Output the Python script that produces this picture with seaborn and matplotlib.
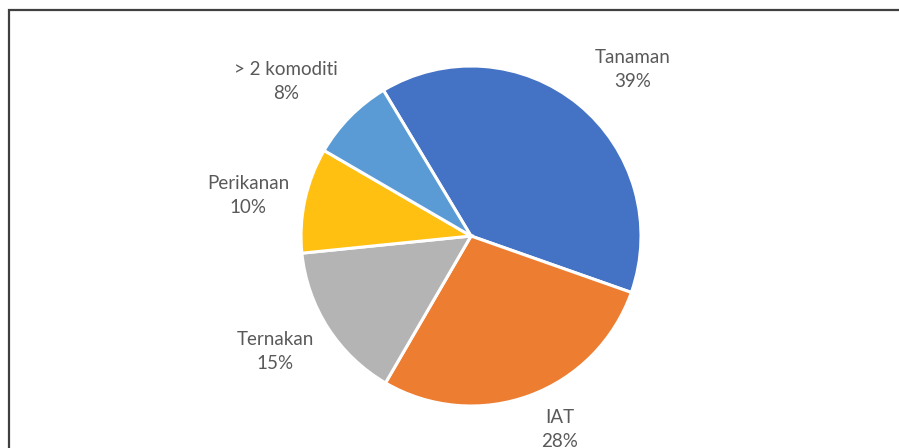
import matplotlib
matplotlib.use('Agg')
import matplotlib.pyplot as plt
import seaborn as sns
from matplotlib.patches import Rectangle

sns.set_theme(style="white")
plt.rcParams['font.family'] = ['Lato', 'DejaVu Sans']

# data
categories = ['Tanaman', 'IAT', 'Ternakan', 'Perikanan', '> 2 komoditi']
shares = [39, 28, 15, 10, 8]
colors = ['#4472C4', '#ED7D31', '#B4B4B4', '#FFC012', '#5B9BD5']

# where the data labels sit (pie radius units), as Excel placed them
label_pos = [(0.95, 0.98), (0.52, -1.14), (-1.15, -0.68), (-1.31, 0.24), (-1.09, 0.91)]

W, H = 899, 448
fig = plt.figure(figsize=(W / 100, H / 100), dpi=100)

# pie centre ~ (471, 236) px, radius ~170 px
cx, cy, r = 471, 236, 170
ax = fig.add_axes([(cx - r) / W, (H - cy - r) / H, 2 * r / W, 2 * r / H])

labels = [f"{c}\n{v}%" for c, v in zip(categories, shares)]
wedges, texts = ax.pie(shares, colors=colors, labels=labels, startangle=121,
                       counterclock=False, labeldistance=1.33,
                       wedgeprops=dict(edgecolor='white', linewidth=2.2),
                       textprops=dict(color='#595959', fontsize=13.5))
for t, p in zip(texts, label_pos):
    t.set_position(p)
    t.set_ha('center')
    t.set_va('center')
    t.set_linespacing(1.5)
ax.set_xlim(-1, 1)
ax.set_ylim(-1, 1)
ax.set_aspect('equal')

# chart frame
fig.patches.append(Rectangle((9 / W, -0.1), 1.0, 1 - 10.5 / H + 0.1,
                             transform=fig.transFigure, fill=False,
                             edgecolor='#404040', linewidth=1.6))

fig.savefig('out.png', dpi=100)
